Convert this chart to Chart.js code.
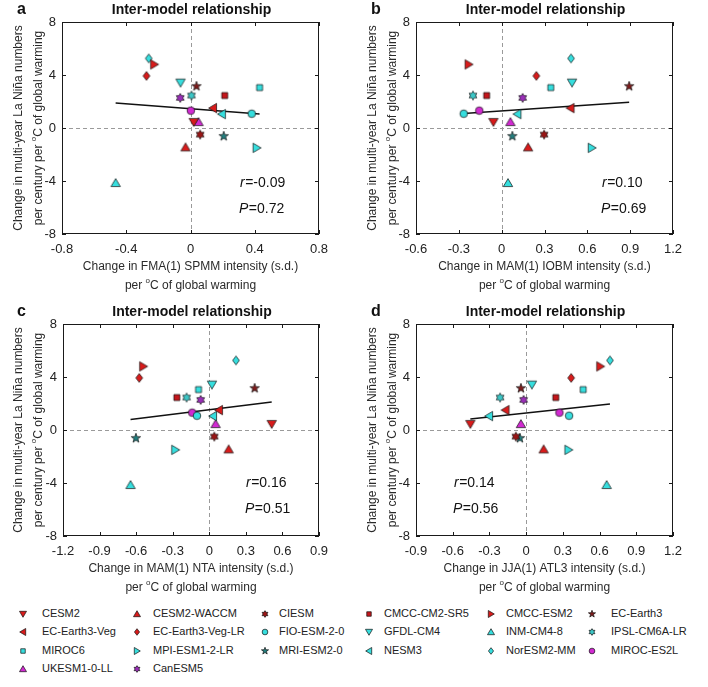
<!DOCTYPE html>
<html>
<head>
<meta charset="utf-8">
<script src="https://cdn.jsdelivr.net/npm/chart.js@4"></script>
<style>
body { margin: 0; background: #fff; width: 708px; height: 687px; position: relative; overflow: hidden; font-family: "Liberation Sans", Arial, sans-serif; }
.panel { position: absolute; width: 354px; height: 300px; }
.leg { position: absolute; font-size: 11px; color: #222; white-space: nowrap; line-height: 13px; }
.legicon { position: absolute; }
</style>
</head>
<body>
<div class="panel" style="left:0;top:0"><canvas id="pa" width="354" height="300"></canvas></div>
<div class="panel" style="left:354px;top:0"><canvas id="pb" width="354" height="300"></canvas></div>
<div class="panel" style="left:0;top:300px"><canvas id="pc" width="354" height="300"></canvas></div>
<div class="panel" style="left:354px;top:300px"><canvas id="pd" width="354" height="300"></canvas></div>
<div id="legend"></div>
<script>
// models in legend order
const models = ['CESM2', 'CESM2-WACCM', 'CIESM', 'CMCC-CM2-SR5', 'CMCC-ESM2', 'EC-Earth3',
    'EC-Earth3-Veg', 'EC-Earth3-Veg-LR', 'FIO-ESM-2-0', 'GFDL-CM4', 'INM-CM4-8', 'IPSL-CM6A-LR',
    'MIROC6', 'MPI-ESM1-2-LR', 'MRI-ESM2-0', 'NESM3', 'NorESM2-MM', 'MIROC-ES2L',
    'UKESM1-0-LL', 'CanESM5']

// change in multi-year La Nina numbers per century per degC (y, same in every panel)
const laNinaChange = [0.45, -1.46, -0.5, 2.45, 4.8, 3.15, 1.5, 3.93, 1.08, 3.42, -4.15, 2.45,
    3.05, -1.5, -0.62, 1.05, 5.25, 1.31, 0.45, 2.27]

// x values of each panel
const spmmFMA = [0.02, -0.031, 0.06, 0.213, -0.226, 0.037, 0.14, -0.274, 0.381, -0.062, -0.466, 0.006,
    0.43, 0.412, 0.207, 0.195, -0.26, 0.002, 0.05, -0.064]
const iobmMAM = [-0.058, 0.185, 0.297, -0.105, -0.231, 0.893, 0.482, 0.243, -0.266, 0.493, 0.044, -0.201,
    0.344, 0.631, 0.075, 0.11, 0.486, -0.157, 0.061, 0.147]
const ntaMAM = [0.512, 0.159, 0.041, -0.266, -0.542, 0.372, 0.079, -0.575, -0.101, 0.022, -0.646, -0.186,
    -0.088, -0.279, -0.602, 0.03, 0.219, -0.14, 0.052, -0.071]
const atl3JJA = [-0.456, 0.143, -0.084, 0.242, 0.606, -0.043, -0.169, 0.368, 0.351, 0.047, 0.658, -0.213,
    0.466, 0.346, -0.051, -0.303, 0.685, 0.272, -0.043, -0.021]

const yTicks = [-8, -4, 0, 4, 8]
const xTicksA = [-0.8, -0.4, 0, 0.4, 0.8]
const xTicksB = [-0.6, -0.3, 0, 0.3, 0.6, 0.9, 1.2]
const xTicksC = [-1.2, -0.9, -0.6, -0.3, 0, 0.3, 0.6, 0.9]
const xTicksD = [-0.9, -0.6, -0.3, 0, 0.3, 0.6, 0.9, 1.2]

const rValues = ['-0.09', '0.10', '0.16', '0.14']
const pValues = ['0.72', '0.69', '0.51', '0.56']

// marker shape and colour per model
const shapes = ['down', 'up', 'hex', 'square', 'right', 'star',
    'left', 'diamond', 'circle', 'down', 'up', 'hex',
    'square', 'right', 'star', 'left', 'diamond', 'circle',
    'up', 'hex']
const RED = '#d81b1b', CYAN = '#36dede', MAG = '#d22ad2'
const colors = [RED, RED, '#9a1616', '#c4161b', RED, '#7e1c1c',
    RED, RED, CYAN, CYAN, CYAN, '#3cc6c6',
    CYAN, CYAN, '#237f7f', CYAN, CYAN, MAG,
    MAG, '#9a2fb8']

const FONT = '"Liberation Sans", Arial, sans-serif'

function drawMarker(ctx, shape, cx, cy, k, fill) {
    ctx.beginPath()
    if (shape == 'circle') {
        ctx.arc(cx, cy, 3.8 * k, 0, Math.PI * 2)
    } else if (shape == 'square') {
        ctx.rect(cx - 3 * k, cy - 3 * k, 6 * k, 6 * k)
    } else if (shape == 'diamond') {
        ctx.moveTo(cx, cy - 4.4 * k); ctx.lineTo(cx + 3.4 * k, cy)
        ctx.lineTo(cx, cy + 4.4 * k); ctx.lineTo(cx - 3.4 * k, cy)
    } else if (shape == 'up' || shape == 'down' || shape == 'left' || shape == 'right') {
        const rot = { up: 0, right: Math.PI / 2, down: Math.PI, left: -Math.PI / 2 }[shape]
        const pts = [[0, -4.4], [4.7, 3.6], [-4.7, 3.6]]
        pts.forEach((p, i) => {
            const x = p[0] * Math.cos(rot) - p[1] * Math.sin(rot)
            const y = p[0] * Math.sin(rot) + p[1] * Math.cos(rot)
            if (i == 0) ctx.moveTo(cx + x * k, cy + y * k)
            else ctx.lineTo(cx + x * k, cy + y * k)
        })
    } else if (shape == 'star' || shape == 'hex') {
        const n = shape == 'star' ? 5 : 6
        const ro = shape == 'star' ? 5 : 4.5
        const ri = shape == 'star' ? 2 : 2.6
        for (let i = 0; i < n * 2; i++) {
            const a = -Math.PI / 2 + i * Math.PI / n
            const r = (i % 2 ? ri : ro) * k
            const x = cx + r * Math.cos(a), y = cy + r * Math.sin(a)
            if (i == 0) ctx.moveTo(x, y)
            else ctx.lineTo(x, y)
        }
    }
    ctx.closePath()
    ctx.fillStyle = fill
    ctx.fill()
    ctx.lineWidth = 0.7
    ctx.strokeStyle = '#111'
    ctx.stroke()
}

function markerCanvas(i, k) {
    const c = document.createElement('canvas')
    c.width = 14
    c.height = 14
    drawMarker(c.getContext('2d'), shapes[i], 7, 7, k, colors[i])
    return c
}

// text with a superscript "o" before C
function drawParts(ctx, parts, x, y, size, align) {
    const big = size + 'px ' + FONT, small = Math.round(size * 0.7) + 'px ' + FONT
    let w = 0
    parts.forEach(p => { ctx.font = p[1] ? small : big; w += ctx.measureText(p[0]).width })
    let px = align == 'center' ? x - w / 2 : x
    ctx.textAlign = 'left'
    ctx.textBaseline = 'middle'
    parts.forEach(p => {
        ctx.font = p[1] ? small : big
        ctx.fillText(p[0], px, p[1] ? y - size * 0.45 : y)
        px += ctx.measureText(p[0]).width
    })
}

const frame = {
    id: 'frame',
    beforeDatasetsDraw(chart) {
        const { ctx, chartArea: a, scales: { x, y } } = chart
        ctx.save()
        ctx.strokeStyle = '#9a9a9a'
        ctx.lineWidth = 1
        ctx.setLineDash([4, 3])
        const x0 = Math.round(x.getPixelForValue(0)) + 0.5
        const y0 = Math.round(y.getPixelForValue(0)) + 0.5
        ctx.beginPath()
        ctx.moveTo(x0, a.top); ctx.lineTo(x0, a.bottom)
        ctx.moveTo(a.left, y0); ctx.lineTo(a.right, y0)
        ctx.stroke()
        ctx.restore()
    },
    afterDraw(chart) {
        const { ctx, chartArea: a, scales: { x, y } } = chart
        const o = chart.options.plugins.frame
        ctx.save()
        ctx.strokeStyle = '#1a1a1a'
        ctx.lineWidth = 1
        ctx.strokeRect(a.left + 0.5, a.top + 0.5, a.right - a.left - 1, a.bottom - a.top - 1)
        ctx.beginPath()
        x.ticks.forEach(t => {
            const px = Math.round(x.getPixelForValue(t.value)) + 0.5
            ctx.moveTo(px, a.top); ctx.lineTo(px, a.top + 4)
            ctx.moveTo(px, a.bottom); ctx.lineTo(px, a.bottom - 4)
        })
        y.ticks.forEach(t => {
            const py = Math.round(y.getPixelForValue(t.value)) + 0.5
            ctx.moveTo(a.left, py); ctx.lineTo(a.left + 4, py)
            ctx.moveTo(a.right, py); ctx.lineTo(a.right - 4, py)
        })
        ctx.stroke()

        ctx.fillStyle = '#111'
        ctx.textBaseline = 'middle'
        ctx.font = 'bold 16px ' + FONT
        ctx.textAlign = 'left'
        ctx.fillText(o.letter, 17, a.top - 12)
        ctx.font = 'bold 14px ' + FONT
        ctx.textAlign = 'center'
        ctx.fillText('Inter-model relationship', (a.left + a.right) / 2 + 1, a.top - 12)

        ctx.fillStyle = '#2a2a2a'
        const cx = (a.left + a.right) / 2
        drawParts(ctx, [[o.xLabel, false]], cx, a.bottom + 33, 12, 'center')
        drawParts(ctx, [['per ', false], ['o', true], ['C of global warming', false]], cx, a.bottom + 52, 12, 'center')

        const cy = (a.top + a.bottom) / 2
        ctx.save()
        ctx.translate(19, cy)
        ctx.rotate(-Math.PI / 2)
        drawParts(ctx, [['Change in multi-year La Niña numbers', false]], 0, 0, 12, 'center')
        ctx.restore()
        ctx.save()
        ctx.translate(39, cy)
        ctx.rotate(-Math.PI / 2)
        drawParts(ctx, [['per century per ', false], ['o', true], ['C of global warming', false]], 0, 0, 12, 'center')
        ctx.restore()

        ctx.fillStyle = '#111'
        ctx.textAlign = 'left'
        let sx = o.statX
        ctx.font = 'italic 14px ' + FONT
        ctx.fillText('r', sx, 183)
        ctx.font = '14px ' + FONT
        ctx.fillText('=' + o.r, sx + ctx.measureText('r').width + 0.5, 183)
        ctx.font = 'italic 14px ' + FONT
        ctx.fillText('P', sx - 1, 209)
        const pw = ctx.measureText('P').width
        ctx.font = '14px ' + FONT
        ctx.fillText('=' + o.p, sx - 1 + pw + 0.5, 209)
        ctx.restore()
    }
}

function fitLine(xs, ys) {
    const n = xs.length
    const mx = xs.reduce((s, v) => s + v, 0) / n
    const my = ys.reduce((s, v) => s + v, 0) / n
    let sxy = 0, sxx = 0
    xs.forEach((v, i) => { sxy += (v - mx) * (ys[i] - my); sxx += (v - mx) * (v - mx) })
    const b = sxy / sxx, a0 = my - b * mx
    const lo = Math.min(...xs), hi = Math.max(...xs)
    return [{ x: lo, y: a0 + b * lo }, { x: hi, y: a0 + b * hi }]
}

function fmt(v) {
    const r = Math.round(v * 10) / 10
    return r == 0 ? '0' : String(r)
}

function makePanel(id, letter, xs, xTicks, xLabel, area, statX, r, p) {
    const datasets = models.map((m, i) => ({
        label: m,
        data: [{ x: xs[i], y: laNinaChange[i] }],
        pointStyle: markerCanvas(i, 1),
        pointRadius: 5,
        order: 1
    }))
    datasets.push({
        label: 'fit',
        data: fitLine(xs, laNinaChange),
        showLine: true,
        borderColor: '#111',
        borderWidth: 1.5,
        pointRadius: 0,
        order: 50
    })
    new Chart(document.getElementById(id), {
        type: 'scatter',
        data: { datasets },
        options: {
            responsive: false,
            animation: false,
            devicePixelRatio: 1,
            layout: { padding: { left: 0, top: area[1], right: 354 - area[2], bottom: 0 } },
            plugins: {
                legend: { display: false },
                tooltip: { enabled: false },
                frame: { letter, xLabel, statX, r, p }
            },
            scales: {
                x: {
                    type: 'linear',
                    min: xTicks[0],
                    max: xTicks[xTicks.length - 1],
                    afterBuildTicks: s => { s.ticks = xTicks.map(v => ({ value: v })) },
                    afterFit: s => { s.height = 300 - area[3] },
                    grid: { display: false, drawTicks: false },
                    border: { display: false },
                    ticks: { padding: 8, color: '#222', font: { family: FONT, size: 13 }, callback: fmt, maxRotation: 0, autoSkip: false }
                },
                y: {
                    type: 'linear',
                    min: yTicks[0],
                    max: yTicks[yTicks.length - 1],
                    afterBuildTicks: s => { s.ticks = yTicks.map(v => ({ value: v })) },
                    afterFit: s => { s.width = area[0] },
                    grid: { display: false, drawTicks: false },
                    border: { display: false },
                    ticks: { padding: 6, color: '#222', font: { family: FONT, size: 13 }, callback: fmt, autoSkip: false }
                }
            }
        },
        plugins: [frame]
    })
}

makePanel('pa', 'a', spmmFMA, xTicksA, 'Change in FMA(1) SPMM intensity (s.d.)', [62, 22, 319, 234], 240, rValues[0], pValues[0])
makePanel('pb', 'b', iobmMAM, xTicksB, 'Change in MAM(1) IOBM intensity (s.d.)', [62, 22, 319, 234], 248, rValues[1], pValues[1])
makePanel('pc', 'c', ntaMAM, xTicksC, 'Change in MAM(1) NTA intensity (s.d.)', [63, 24, 319, 236], 246, rValues[2], pValues[2])
makePanel('pd', 'd', atl3JJA, xTicksD, 'Change in JJA(1) ATL3 intensity (s.d.)', [62, 24, 319, 236], 100, rValues[3], pValues[3])

// legend, 6 columns
const legMarkX = [23, 137, 265, 369, 491, 592]
const legTextX = [42, 153, 279, 384, 506, 611]
const legRowY = [614, 632, 651, 669]
const legend = document.getElementById('legend')
models.forEach((m, i) => {
    const col = i % 6, row = Math.floor(i / 6)
    const c = markerCanvas(i, 0.75)
    c.className = 'legicon'
    c.style.left = (legMarkX[col] - 7) + 'px'
    c.style.top = (legRowY[row] - 7) + 'px'
    legend.appendChild(c)
    const t = document.createElement('div')
    t.className = 'leg'
    t.style.left = legTextX[col] + 'px'
    t.style.top = (legRowY[row] - 7) + 'px'
    t.textContent = m
    legend.appendChild(t)
})
</script>
</body>
</html>
